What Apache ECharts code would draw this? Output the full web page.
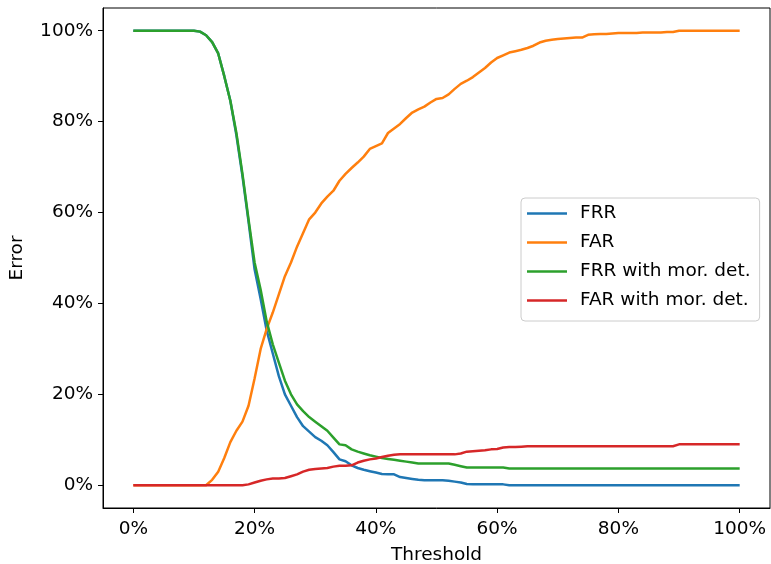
<!DOCTYPE html>
<html>
<head>
<meta charset="utf-8">
<script src="https://cdn.jsdelivr.net/npm/echarts@6/dist/echarts.min.js"></script>
<style>html,body{margin:0;padding:0;background:#fff}#c{width:771px;height:564px}</style>
</head>
<body>
<div id="c"></div>
<script>
// Threshold in %, one point per 1 %
const thresholds = [];
for (let i = 0; i <= 100; i++) thresholds.push(i);

const tickValues = [0, 20, 40, 60, 80, 100];
const seriesNames = ['FRR', 'FAR', 'FRR with mor. det.', 'FAR with mor. det.'];

const frr = [
  100,100,100,100,100,100,100,100,100,100,   // 0-9
  100,99.8,99,97.5,95,90,84.6,77,68,58,      // 10-19
  47.5,41,34,29,24,20,17.5,15,13,11.8,       // 20-29
  10.6,9.8,8.8,7.3,5.7,5.3,4.4,3.8,3.4,3.1,  // 30-39
  2.8,2.5,2.4,2.4,1.8,1.6,1.4,1.2,1.1,1.1,   // 40-49
  1.1,1.1,1.0,0.8,0.6,0.3,0.2,0.2,0.2,0.2,   // 50-59
  0.2,0.2,0,0,0,0,0,0,0,0,                   // 60-69
  0,0,0,0,0,0,0,0,0,0,                       // 70-79
  0,0,0,0,0,0,0,0,0,0,                       // 80-89
  0,0,0,0,0,0,0,0,0,0,                       // 90-99
  0                                          // 100
];

const far = [
  0,0,0,0,0,0,0,0,0,0,                       // 0-9
  0,0,0,1.2,3,6,9.5,12,14,17.5,              // 10-19
  23.5,30,34.4,38,42,46,49,52.5,55.5,58.5,   // 20-29
  60,62,63.5,64.8,67,68.5,69.8,71,72.3,74,   // 30-39
  74.6,75.2,77.5,78.5,79.5,80.8,82,82.7,83.3,84.2, // 40-49
  85,85.2,86,87.2,88.3,89,89.8,90.8,91.8,93, // 50-59
  94,94.6,95.2,95.5,95.8,96.2,96.7,97.4,97.8,98,   // 60-69
  98.2,98.3,98.4,98.5,98.5,99.1,99.2,99.3,99.3,99.4, // 70-79
  99.5,99.5,99.5,99.5,99.6,99.6,99.6,99.6,99.7,99.7, // 80-89
  100,100,100,100,100,100,100,100,100,100,   // 90-99
  100                                        // 100
];

const frrMor = [
  100,100,100,100,100,100,100,100,100,100,   // 0-9
  100,99.8,99,97.5,95,90,84.6,77.5,68.5,58.5, // 10-19
  49,43,36,31,27,23,20,17.8,16.3,15,         // 20-29
  14,13,12,10.5,9,8.8,7.9,7.4,7,6.6,         // 30-39
  6.3,6,5.8,5.6,5.4,5.2,5,4.8,4.8,4.8,       // 40-49
  4.8,4.8,4.8,4.5,4.2,3.9,3.9,3.9,3.9,3.9,   // 50-59
  3.9,3.9,3.7,3.7,3.7,3.7,3.7,3.7,3.7,3.7,   // 60-69
  3.7,3.7,3.7,3.7,3.7,3.7,3.7,3.7,3.7,3.7,   // 70-79
  3.7,3.7,3.7,3.7,3.7,3.7,3.7,3.7,3.7,3.7,   // 80-89
  3.7,3.7,3.7,3.7,3.7,3.7,3.7,3.7,3.7,3.7,   // 90-99
  3.7                                        // 100
];

const farMor = [
  0,0,0,0,0,0,0,0,0,0,                       // 0-9
  0,0,0,0,0,0,0,0,0,0.2,                     // 10-19
  0.6,1.0,1.3,1.5,1.5,1.6,2.0,2.4,3.0,3.4,   // 20-29
  3.6,3.7,3.8,4.1,4.3,4.3,4.4,5.0,5.4,5.7,   // 30-39
  5.9,6.2,6.5,6.7,6.8,6.8,6.8,6.8,6.8,6.8,   // 40-49
  6.8,6.8,6.8,6.8,7.0,7.4,7.5,7.6,7.7,7.9,   // 50-59
  8.0,8.3,8.4,8.4,8.5,8.6,8.6,8.6,8.6,8.6,   // 60-69
  8.6,8.6,8.6,8.6,8.6,8.6,8.6,8.6,8.6,8.6,   // 70-79
  8.6,8.6,8.6,8.6,8.6,8.6,8.6,8.6,8.6,8.6,   // 80-89
  9.0,9.0,9.0,9.0,9.0,9.0,9.0,9.0,9.0,9.0,   // 90-99
  9.0                                        // 100
];

const colors = ['#1f77b4', '#ff7f0e', '#2ca02c', '#d62728'];
const allValues = [frr, far, frrMor, farMor];
const FONT = 'DejaVu Sans';
const FS = 18.5;

const chart = echarts.init(document.getElementById('c'), null, {renderer: 'canvas'});

const series = seriesNames.map((name, k) => ({
  name: name,
  type: 'line',
  data: thresholds.map((t, i) => [t, allValues[k][i]]),
  showSymbol: false,
  symbol: 'none',
  lineStyle: {color: colors[k], width: 2.5},
  itemStyle: {color: colors[k]},
  animation: false,
  z: 2 + k
}));

chart.setOption({
  animation: false,
  backgroundColor: '#fff',
  textStyle: {fontFamily: FONT},
  grid: {left: 103, top: 8, width: 667, height: 500, show: true, borderColor: '#000', borderWidth: 1,
         containLabel: false, outerBoundsMode: 'none'},
  legend: {
    left: 521, top: 198,
    orient: 'vertical',
    data: seriesNames,
    icon: 'rect',
    itemWidth: 40, itemHeight: 2.5,
    itemGap: 10,
    padding: [6, 9, 11, 6],
    backgroundColor: 'rgba(255,255,255,0.8)',
    borderColor: '#cccccc', borderWidth: 1, borderRadius: 4,
    formatter: n => '{a|' + n + '}',
    textStyle: {fontFamily: FONT, fontSize: FS, color: '#000',
      rich: {a: {fontFamily: FONT, fontSize: FS, color: '#000', padding: [0, 0, 0, 8], lineHeight: 20}}}
  },
  xAxis: {
    type: 'value', min: -5, max: 105,
    name: 'Threshold', nameLocation: 'middle', nameGap: 38,
    nameTextStyle: {fontFamily: FONT, fontSize: FS, color: '#000'},
    axisLine: {show: true, onZero: false, lineStyle: {color: '#000', width: 1}},
    axisTick: {show: true, length: 5, inside: false, customValues: tickValues, lineStyle: {color: '#000'}},
    axisLabel: {show: true, margin: 12, customValues: tickValues, formatter: v => v + '%', fontFamily: FONT, fontSize: FS, color: '#000'},
    splitLine: {show: false}
  },
  yAxis: {
    type: 'value', min: -5, max: 105,
    name: 'Error', nameLocation: 'middle', nameGap: 76, nameRotate: 90,
    nameTextStyle: {fontFamily: FONT, fontSize: FS, color: '#000'},
    axisLine: {show: true, onZero: false, lineStyle: {color: '#000', width: 1}},
    axisTick: {show: true, length: 5, inside: false, customValues: tickValues, lineStyle: {color: '#000'}},
    axisLabel: {show: true, margin: 10, customValues: tickValues, formatter: v => v + '%', fontFamily: FONT, fontSize: FS, color: '#000'},
    splitLine: {show: false}
  },
  series: series
});
</script>
</body>
</html>
